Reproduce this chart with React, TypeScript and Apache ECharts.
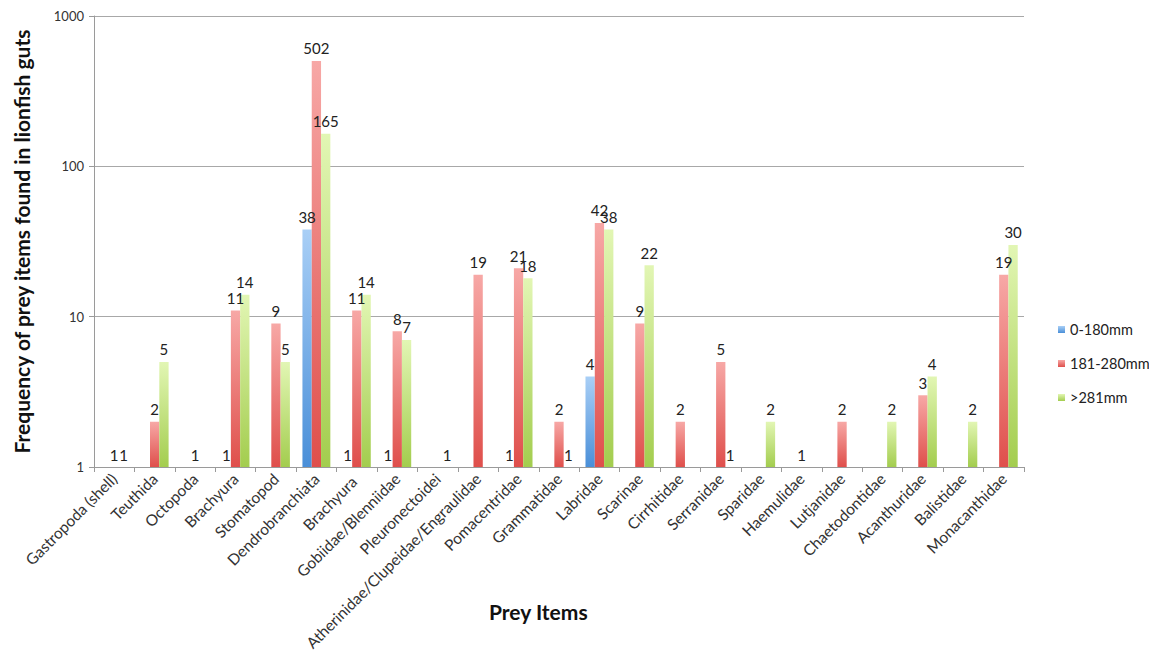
import React, { useEffect, useRef } from "react";
import * as echarts from "echarts";

const categories = [
  "Gastropoda (shell)", "Teuthida", "Octopoda", "Brachyura", "Stomatopod", "Dendrobranchiata",
  "Brachyura ", "Gobiidae/Blenniidae", "Pleuronectoidei", "Atherinidae/Clupeidae/Engraulidae",
  "Pomacentridae", "Grammatidae", "Labridae", "Scarinae", "Cirrhitidae", "Serranidae", "Sparidae",
  "Haemulidae", "Lutjanidae", "Chaetodontidae", "Acanthuridae", "Balistidae", "Monacanthidae",
];
const seriesNames = ["0-180mm", "181-280mm", ">281mm"];
const small = [null, null, null, 1, null, 38, 1, 1, null, null, 1, null, 4, null, null, null, null, null, null, null, null, null, null];
const medium = [1, 2, 1, 11, 9, 502, 11, 8, null, 19, 21, 2, 42, 9, 2, 5, null, 1, 2, null, 3, null, 19];
const large = [1, 5, null, 14, 5, 165, 14, 7, 1, null, 18, 1, 38, 22, null, 1, 2, null, null, 2, 4, 2, 30];
const yTicks = [1, 10, 100, 1000];

const FONT = "Lato, 'Open Sans', sans-serif";

const grad = (top: string, bottom: string) =>
  new echarts.graphic.LinearGradient(0, 0, 0, 1, [
    { offset: 0, color: top },
    { offset: 1, color: bottom },
  ]);

export default function App() {
  const ref = useRef<HTMLDivElement>(null);
  useEffect(() => {
    if (!ref.current) return;
    const chart = echarts.init(ref.current, undefined, { renderer: "svg" });
    const colors = [
      ["#a9cff6", "#4a8fd8"],
      ["#f7a8a6", "#df4f4b"],
      ["#e2f6b4", "#a3cd4e"],
    ];
    const data = [small, medium, large];
    chart.setOption({
      animation: false,
      textStyle: { fontFamily: FONT },
      legend: {
        orient: "vertical",
        left: 1053,
        top: 317,
        itemWidth: 7,
        itemHeight: 7,
        itemGap: 19,
        icon: "rect",
        textStyle: { fontSize: 14.5, color: "#222", fontFamily: FONT },
        data: seriesNames,
      },
      grid: { left: 94, top: 16, right: 125, bottom: 195, containLabel: false },
      xAxis: {
        type: "category",
        data: categories,
        boundaryGap: true,
        axisLine: { lineStyle: { color: "#9a9a9a" } },
        axisTick: { show: true, length: 5, lineStyle: { color: "#9a9a9a" } },
        axisLabel: { rotate: 45, fontSize: 15.5, color: "#333", margin: 9, interval: 0, fontFamily: FONT },
      },
      yAxis: {
        type: "log",
        logBase: 10,
        min: yTicks[0],
        max: yTicks[yTicks.length - 1],
        name: "Frequency of prey items found in lionfish guts",
        nameLocation: "middle",
        nameGap: 62,
        nameTextStyle: { fontSize: 21, fontWeight: "bold", color: "#111", fontFamily: FONT },
        axisLine: { show: true, lineStyle: { color: "#9a9a9a" } },
        axisTick: { show: true, length: 5, lineStyle: { color: "#9a9a9a" } },
        axisLabel: { fontSize: 13, color: "#333", margin: 10, fontFamily: FONT, formatter: (v: number) => String(Math.round(v)) },
        splitLine: { show: true, lineStyle: { color: "#a8a8a8" } },
        minorTick: { show: false },
      },
      graphic: [
        {
          type: "text",
          left: 549 - 60,
          top: 601,
          style: { text: "Prey Items", fontSize: 21, fontWeight: "bold", fill: "#111", fontFamily: FONT, width: 120, align: "center" },
        },
      ],
      series: seriesNames.map((name, i) => ({
        name,
        type: "bar",
        data: data[i],
        barGap: "0%",
        barCategoryGap: "31%",
        itemStyle: { color: grad(colors[i][0], colors[i][1]) },
        label: {
          show: true,
          position: "top",
          distance: 5,
          fontSize: 15,
          color: "#222",
          fontFamily: FONT,
        },
      })),
    });
    return () => chart.dispose();
  }, []);
  return <div ref={ref} style={{ width: 1149, height: 662, position: "absolute", left: 0, top: 0 }} />;
}
